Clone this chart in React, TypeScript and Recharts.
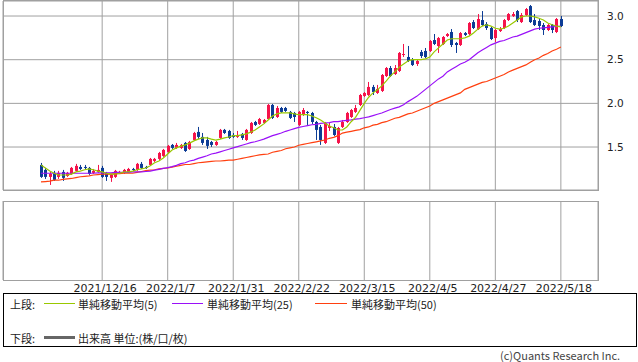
import { ComposedChart, Bar, Line, XAxis, YAxis, CartesianGrid } from 'recharts';

const tickIndex = [14, 29, 44, 59, 74, 89, 104, 119];
const tickLabels = ['2021/12/16', '2022/1/7', '2022/1/31', '2022/2/22', '2022/3/15', '2022/4/5', '2022/4/27', '2022/5/18'];
const priceTicks = [1.5, 2.0, 2.5, 3.0];

const opens = [
  1.295, 1.238, 1.158, 1.204, 1.158, 1.215, 1.169, 1.192, 1.227, 1.272,
  1.272, 1.261, 1.204, 1.215, 1.261, 1.204, 1.147, 1.158, 1.204, 1.204,
  1.215, 1.249, 1.238, 1.307, 1.272, 1.295, 1.341, 1.364, 1.398, 1.444,
  1.524, 1.49, 1.49, 1.547, 1.478, 1.581, 1.673, 1.616, 1.581, 1.558,
  1.524, 1.604, 1.696, 1.684, 1.638, 1.616, 1.65, 1.581, 1.661, 1.787,
  1.764, 1.776, 1.821, 1.982, 1.844, 1.947, 1.947, 1.902, 1.89, 1.753,
  1.867, 1.902, 1.89, 1.787, 1.73, 1.547, 1.718, 1.73, 1.547, 1.73,
  1.787, 1.844, 1.902, 1.982, 2.085, 2.096, 2.188, 2.119, 2.142, 2.313,
  2.405, 2.336, 2.371, 2.554, 2.531, 2.497, 2.451, 2.588, 2.6, 2.6,
  2.725, 2.657, 2.68, 2.771, 2.817, 2.691, 2.668, 2.805, 2.794, 2.931,
  2.851, 2.954, 2.908, 2.863, 2.748, 2.828, 2.863, 2.954, 3.0, 3.057,
  2.931, 3.011, 3.114, 2.954, 2.943, 2.897, 2.84, 2.897, 2.817, 2.966,
];
const highs = [
  1.318, 1.261, 1.215, 1.227, 1.227, 1.238, 1.215, 1.272, 1.307, 1.295,
  1.295, 1.272, 1.249, 1.295, 1.284, 1.215, 1.192, 1.238, 1.227, 1.249,
  1.261, 1.261, 1.318, 1.329, 1.284, 1.375, 1.375, 1.444, 1.478, 1.524,
  1.535, 1.547, 1.535, 1.558, 1.57, 1.673, 1.73, 1.661, 1.616, 1.57,
  1.57, 1.707, 1.707, 1.696, 1.661, 1.684, 1.661, 1.707, 1.787, 1.799,
  1.833, 1.821, 1.993, 1.993, 1.97, 1.959, 1.959, 1.913, 1.902, 1.913,
  1.947, 1.913, 1.902, 1.799, 1.753, 1.787, 1.776, 1.764, 1.73, 1.81,
  1.902, 1.936, 1.982, 2.108, 2.13, 2.245, 2.211, 2.211, 2.336, 2.416,
  2.428, 2.439, 2.588, 2.68, 2.657, 2.519, 2.497, 2.611, 2.634, 2.725,
  2.794, 2.76, 2.771, 2.805, 2.851, 2.703, 2.817, 2.817, 2.931, 2.954,
  3.023, 3.057, 2.931, 2.874, 2.851, 2.874, 2.966, 3.034, 3.046, 3.069,
  3.034, 3.092, 3.126, 3.023, 2.966, 2.92, 2.908, 2.908, 2.977, 3.0,
];
const lows = [
  1.147, 1.135, 1.066, 1.112, 1.135, 1.112, 1.158, 1.181, 1.215, 1.238,
  1.238, 1.181, 1.192, 1.204, 1.147, 1.112, 1.101, 1.147, 1.192, 1.192,
  1.204, 1.227, 1.227, 1.249, 1.249, 1.284, 1.329, 1.352, 1.387, 1.432,
  1.478, 1.478, 1.478, 1.444, 1.467, 1.57, 1.593, 1.524, 1.478, 1.501,
  1.513, 1.593, 1.65, 1.593, 1.604, 1.604, 1.581, 1.57, 1.65, 1.741,
  1.753, 1.764, 1.81, 1.821, 1.833, 1.89, 1.902, 1.821, 1.787, 1.741,
  1.856, 1.753, 1.764, 1.581, 1.524, 1.535, 1.684, 1.627, 1.535, 1.718,
  1.776, 1.833, 1.89, 1.97, 2.073, 2.085, 2.096, 2.108, 2.13, 2.302,
  2.302, 2.325, 2.359, 2.531, 2.474, 2.428, 2.428, 2.519, 2.519, 2.588,
  2.668, 2.577, 2.668, 2.76, 2.645, 2.577, 2.657, 2.771, 2.783, 2.851,
  2.84, 2.886, 2.84, 2.725, 2.703, 2.817, 2.851, 2.943, 2.989, 2.931,
  2.92, 3.0, 2.92, 2.886, 2.84, 2.783, 2.828, 2.805, 2.805, 2.874,
];
const closes = [
  1.158, 1.158, 1.192, 1.124, 1.204, 1.147, 1.204, 1.261, 1.284, 1.249,
  1.261, 1.192, 1.227, 1.238, 1.158, 1.158, 1.181, 1.227, 1.215, 1.238,
  1.249, 1.238, 1.307, 1.261, 1.261, 1.364, 1.364, 1.432, 1.467, 1.513,
  1.49, 1.524, 1.524, 1.455, 1.558, 1.661, 1.616, 1.547, 1.513, 1.524,
  1.558, 1.696, 1.661, 1.604, 1.616, 1.638, 1.604, 1.696, 1.776, 1.753,
  1.821, 1.81, 1.982, 1.833, 1.947, 1.902, 1.913, 1.833, 1.844, 1.902,
  1.924, 1.89, 1.787, 1.696, 1.581, 1.776, 1.741, 1.638, 1.718, 1.787,
  1.89, 1.924, 1.947, 2.096, 2.119, 2.188, 2.13, 2.165, 2.325, 2.405,
  2.313, 2.405, 2.577, 2.565, 2.485, 2.439, 2.485, 2.542, 2.531, 2.714,
  2.68, 2.748, 2.76, 2.794, 2.668, 2.668, 2.805, 2.783, 2.92, 2.863,
  2.966, 2.897, 2.863, 2.737, 2.84, 2.851, 2.954, 3.023, 3.023, 2.954,
  3.011, 3.08, 2.931, 2.897, 2.886, 2.84, 2.897, 2.84, 2.966, 2.886,
];

// moving averages
const ma5 = [
  1.295, 1.26, 1.225, 1.2, 1.18, 1.18, 1.18, 1.19, 1.215, 1.225,
  1.24, 1.25, 1.24, 1.225, 1.215, 1.2, 1.19, 1.19, 1.2, 1.215,
  1.215, 1.225, 1.24, 1.25, 1.26, 1.285, 1.32, 1.34, 1.375, 1.42,
  1.465, 1.49, 1.51, 1.525, 1.545, 1.57, 1.59, 1.605, 1.605, 1.59,
  1.58, 1.59, 1.605, 1.615, 1.63, 1.63, 1.64, 1.65, 1.67, 1.695,
  1.73, 1.765, 1.81, 1.855, 1.88, 1.89, 1.89, 1.89, 1.88, 1.87,
  1.87, 1.87, 1.855, 1.835, 1.81, 1.775, 1.74, 1.72, 1.695, 1.695,
  1.73, 1.79, 1.84, 1.92, 2.0, 2.07, 2.12, 2.155, 2.2, 2.255,
  2.315, 2.36, 2.415, 2.45, 2.485, 2.5, 2.5, 2.5, 2.51, 2.53,
  2.59, 2.635, 2.68, 2.725, 2.74, 2.74, 2.74, 2.75, 2.77, 2.805,
  2.85, 2.885, 2.9, 2.885, 2.86, 2.85, 2.86, 2.885, 2.92, 2.955,
  2.99, 3.0, 3.0, 2.99, 2.975, 2.955, 2.92, 2.9, 2.885, 2.875,
];
const ma25 = [
  1.2, 1.2, 1.2, 1.2, 1.2, 1.2, 1.2, 1.2, 1.2, 1.2,
  1.2, 1.2, 1.2, 1.205, 1.205, 1.205, 1.205, 1.21, 1.21, 1.21,
  1.21, 1.215, 1.215, 1.215, 1.22, 1.225, 1.235, 1.245, 1.255, 1.265,
  1.275, 1.29, 1.31, 1.32, 1.34, 1.35, 1.37, 1.385, 1.4, 1.42,
  1.43, 1.445, 1.46, 1.475, 1.49, 1.505, 1.52, 1.535, 1.55, 1.56,
  1.575, 1.59, 1.61, 1.63, 1.645, 1.66, 1.68, 1.695, 1.71, 1.725,
  1.735, 1.745, 1.755, 1.76, 1.77, 1.775, 1.78, 1.79, 1.79, 1.8,
  1.805, 1.81, 1.82, 1.825, 1.835, 1.845, 1.86, 1.875, 1.89, 1.91,
  1.93, 1.945, 1.96, 1.985, 2.02, 2.05, 2.08, 2.12, 2.16, 2.2,
  2.24, 2.28, 2.31, 2.36, 2.39, 2.42, 2.45, 2.47, 2.5, 2.54,
  2.58, 2.61, 2.64, 2.67, 2.69, 2.71, 2.72, 2.74, 2.76, 2.77,
  2.79, 2.81, 2.83, 2.85, 2.86, 2.865, 2.87, 2.875, 2.88, 2.885,
];
const ma50 = [
  1.1, 1.105, 1.11, 1.12, 1.12, 1.13, 1.135, 1.14, 1.15, 1.16,
  1.165, 1.17, 1.18, 1.185, 1.19, 1.19, 1.19, 1.195, 1.195, 1.2,
  1.2, 1.2, 1.21, 1.22, 1.23, 1.235, 1.24, 1.25, 1.255, 1.26,
  1.27, 1.28, 1.29, 1.3, 1.3, 1.31, 1.32, 1.325, 1.33, 1.335,
  1.34, 1.34, 1.345, 1.35, 1.35, 1.36, 1.37, 1.38, 1.39, 1.4,
  1.41, 1.415, 1.42, 1.44, 1.45, 1.46, 1.48, 1.49, 1.5, 1.52,
  1.53, 1.54, 1.55, 1.56, 1.57, 1.58, 1.6, 1.61, 1.63, 1.66,
  1.67, 1.68, 1.69, 1.7, 1.72, 1.73, 1.75, 1.76, 1.78, 1.79,
  1.81, 1.83, 1.84, 1.86, 1.88, 1.89, 1.91, 1.93, 1.95, 1.97,
  2.0, 2.02, 2.04, 2.06, 2.08, 2.1, 2.12, 2.16, 2.18, 2.2,
  2.22, 2.24, 2.25, 2.27, 2.29, 2.31, 2.33, 2.36, 2.38, 2.4,
  2.42, 2.44, 2.47, 2.5, 2.52, 2.55, 2.57, 2.6, 2.62, 2.645,
];

const UP = '#f5134a';
const DOWN = '#0c3c95';
const GRID = '#a0a0a0';
const C5 = '#99c800';
const C25 = '#9a10f8';
const C50 = '#ff4010';

const data = opens.map((o, i) => ({
  i,
  o,
  h: highs[i],
  l: lows[i],
  c: closes[i],
  range: [lows[i], highs[i]],
  ma5: ma5[i],
  ma25: ma25[i],
  ma50: ma50[i],
}));

function Candle(props: any) {
  const { x, y, width, height, payload } = props;
  if (x == null || payload == null) return null;
  const top = Math.min(y, y + height);
  const h = Math.abs(height);
  const span = payload.h - payload.l || 1;
  const k = h / span;
  const bodyTop = top + (payload.h - Math.max(payload.o, payload.c)) * k;
  const bodyBot = top + (payload.h - Math.min(payload.o, payload.c)) * k;
  const cx = Math.floor(x + width / 2);
  const color = payload.c >= payload.o ? UP : DOWN;
  return (
    <g>
      <line x1={cx + 0.5} x2={cx + 0.5} y1={top} y2={top + h} stroke={color} strokeWidth={1} />
      <rect x={cx - 1} y={bodyTop} width={3} height={Math.max(1, bodyBot - bodyTop)} fill={color} />
    </g>
  );
}

const xDomain = [-8.7, 127.5];
const txt = { fontFamily: '"Noto Sans CJK JP", sans-serif', fontSize: 11, color: '#222', lineHeight: '12px', whiteSpace: 'nowrap' as const };

export default function App() {
  return (
    <div style={{ position: 'absolute', left: 0, top: 0, width: 638, height: 362, background: '#fff', overflow: 'hidden' }}>
      <div style={{ position: 'absolute', left: 3, top: 0, width: 596, height: 191, border: `1px solid ${GRID}`, boxSizing: 'border-box' }} />
      <div style={{ position: 'absolute', left: 0, top: 0 }}>
        <ComposedChart width={638} height={192} data={data} margin={{ top: 1, right: 0, bottom: 2, left: 3 }}>
          <CartesianGrid stroke={GRID} />
          <XAxis type="number" dataKey="i" domain={xDomain} ticks={tickIndex} allowDataOverflow hide />
          <YAxis
            orientation="right"
            width={40}
            domain={[1.008, 3.172]}
            ticks={priceTicks}
            allowDataOverflow
            tickFormatter={(v: number) => v.toFixed(1)}
            tickLine={false}
            axisLine={false}
            tickMargin={3}
            tick={{ fontSize: 10.5, fill: '#222', fontFamily: 'DejaVu Sans' }}
          />
          <Bar dataKey="range" barSize={3} shape={<Candle />} isAnimationActive={false} />
          <Line dataKey="ma50" stroke={C50} strokeWidth={1.2} dot={false} isAnimationActive={false} />
          <Line dataKey="ma25" stroke={C25} strokeWidth={1.2} dot={false} isAnimationActive={false} />
          <Line dataKey="ma5" stroke={C5} strokeWidth={1.2} dot={false} isAnimationActive={false} />
        </ComposedChart>
      </div>

      <div style={{ position: 'absolute', left: 3, top: 201, width: 596, height: 80, border: `1px solid ${GRID}`, boxSizing: 'border-box' }} />
      <div style={{ position: 'absolute', left: 0, top: 195 }}>
        <ComposedChart width={638} height={105} data={data} margin={{ top: 6, right: 40, bottom: 0, left: 3 }}>
          <CartesianGrid stroke={GRID} horizontal={false} />
          <XAxis
            type="number"
            dataKey="i"
            domain={xDomain}
            ticks={tickIndex}
            allowDataOverflow
            interval={0}
            height={20}
            tickLine={false}
            axisLine={false}
            tickSize={0}
            tickMargin={4}
            tickFormatter={(v: number) => tickLabels[tickIndex.indexOf(v)] ?? ''}
            tick={{ fontSize: 11, fill: '#222', fontFamily: 'DejaVu Sans', dx: 3 }}
          />
          <YAxis hide domain={[0, 1]} />
        </ComposedChart>
      </div>

      <div style={{ position: 'absolute', left: 3, top: 293, width: 634, height: 54, border: '1px solid #000', boxSizing: 'border-box' }}>
        <div style={{ ...txt, position: 'absolute', left: 6, top: 4 }}>上段:</div>
        <div style={{ position: 'absolute', left: 40, top: 9, width: 31, height: 1, background: C5 }} />
        <div style={{ ...txt, position: 'absolute', left: 74, top: 4 }}>単純移動平均(5)</div>
        <div style={{ position: 'absolute', left: 168, top: 9, width: 31, height: 1, background: C25 }} />
        <div style={{ ...txt, position: 'absolute', left: 203, top: 4 }}>単純移動平均(25)</div>
        <div style={{ position: 'absolute', left: 311, top: 9, width: 32, height: 1, background: C50 }} />
        <div style={{ ...txt, position: 'absolute', left: 347, top: 4 }}>単純移動平均(50)</div>
        <div style={{ ...txt, position: 'absolute', left: 6, top: 38 }}>下段:</div>
        <div style={{ position: 'absolute', left: 40, top: 42, width: 31, height: 3, background: '#666' }} />
        <div style={{ ...txt, position: 'absolute', left: 74, top: 38 }}>出来高 単位:(株/口/枚)</div>
      </div>
      <div style={{ ...txt, position: 'absolute', left: 500, top: 349, color: '#444' }}>(c)Quants Research Inc.</div>
    </div>
  );
}
